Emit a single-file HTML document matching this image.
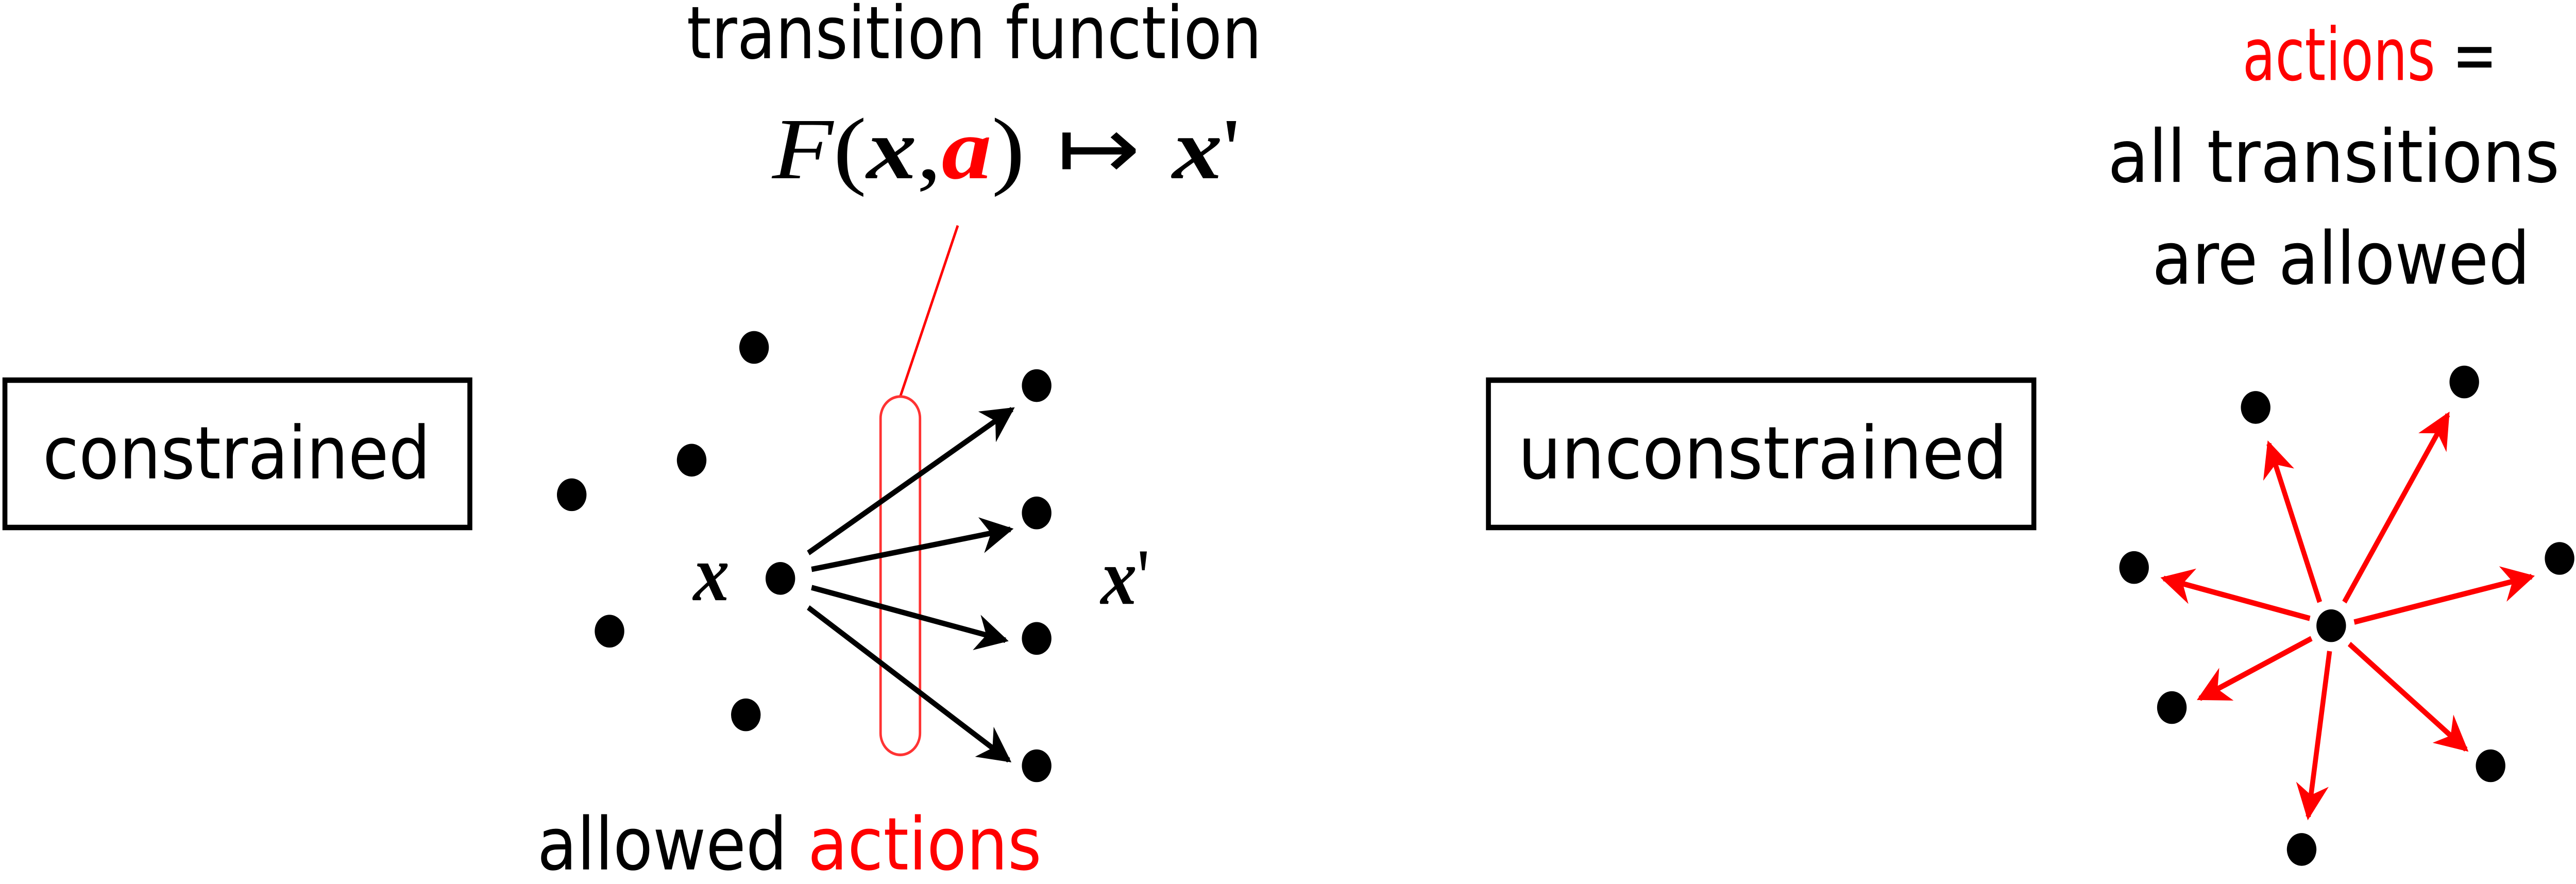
<!DOCTYPE html>
<html><head><meta charset="utf-8"><style>
html,body{margin:0;padding:0;background:#fff;width:100%;height:100%;overflow:hidden;}
svg{display:block;width:100vw;height:100vh;position:fixed;left:0;top:0;}
text{font-family:"DejaVu Sans","Liberation Sans",sans-serif;}
.m{font-family:"Liberation Serif",serif;font-style:italic;font-weight:bold;}
</style></head><body>
<svg viewBox="0 0 1568 486" preserveAspectRatio="none" xmlns="http://www.w3.org/2000/svg">
<defs>
<marker id="abk" viewBox="0 0 10 10" refX="9" refY="5" markerWidth="24" markerHeight="20" orient="auto" markerUnits="userSpaceOnUse"><path d="M0,0 L10,5 L0,10 L3,5 z" fill="#000"/></marker>
<marker id="ark" viewBox="0 0 10 10" refX="9" refY="5" markerWidth="24" markerHeight="20" orient="auto" markerUnits="userSpaceOnUse"><path d="M0,0 L10,5 L0,10 L3,5 z" fill="#f00"/></marker>
</defs>
<g>
<rect x="3" y="209" width="283" height="81" fill="none" stroke="#000" stroke-width="3"/>
<text x="26" y="263" font-size="40" textLength="236" lengthAdjust="spacingAndGlyphs">constrained</text>
</g>
<text x="418" y="32" font-size="40" textLength="350" lengthAdjust="spacingAndGlyphs">transition function</text>
<text x="470" y="98" font-size="48" textLength="285" lengthAdjust="spacingAndGlyphs"><tspan font-family="Liberation Serif,serif" font-style="italic">F</tspan><tspan font-family="Liberation Serif,serif">(</tspan><tspan class="m">x</tspan><tspan font-family="Liberation Serif,serif">,</tspan><tspan class="m" fill="#f00">a</tspan><tspan font-family="Liberation Serif,serif">)</tspan> ↦ <tspan class="m">x</tspan><tspan font-family="Liberation Serif,serif">'</tspan></text>
<line x1="548" y1="218" x2="583" y2="124" stroke="#f00" stroke-width="1.5"/>
<rect x="536" y="218" width="24" height="197" rx="12" fill="none" stroke="#f33" stroke-width="1.5"/>
<g fill="#000">
<circle cx="459" cy="191" r="9"/><circle cx="421" cy="253" r="9"/><circle cx="348" cy="272" r="9"/>
<circle cx="371" cy="347" r="9"/><circle cx="454" cy="393" r="9"/><circle cx="475" cy="318" r="9"/>
<circle cx="631" cy="212" r="9"/><circle cx="631" cy="282" r="9"/><circle cx="631" cy="351" r="9"/><circle cx="631" cy="421" r="9"/>
</g>
<g stroke="#000" stroke-width="3">
<line x1="492" y1="304" x2="616" y2="225" marker-end="url(#abk)"/>
<line x1="494" y1="313" x2="615" y2="291" marker-end="url(#abk)"/>
<line x1="494" y1="323" x2="612" y2="352" marker-end="url(#abk)"/>
<line x1="492" y1="334" x2="614" y2="418" marker-end="url(#abk)"/>
</g>
<text x="422" y="330" font-size="44" class="m">x</text>
<text x="670" y="332" font-size="44" class="m">x<tspan font-weight="normal" font-style="normal">'</tspan></text>
<text x="327" y="478" font-size="40" textLength="307" lengthAdjust="spacingAndGlyphs">allowed <tspan fill="#f00">actions</tspan></text>
<g>
<rect x="906" y="209" width="332" height="81" fill="none" stroke="#000" stroke-width="3"/>
<text x="924" y="263" font-size="40" textLength="298" lengthAdjust="spacingAndGlyphs">unconstrained</text>
</g>
<g font-size="40">
<text x="1365" y="44" textLength="155" lengthAdjust="spacingAndGlyphs"><tspan fill="#f00">actions</tspan> =</text>
<text x="1283" y="100" textLength="275" lengthAdjust="spacingAndGlyphs">all transitions</text>
<text x="1310" y="156" textLength="230" lengthAdjust="spacingAndGlyphs">are allowed</text>
</g>
<g fill="#000">
<circle cx="1419" cy="344" r="9"/>
<circle cx="1373" cy="224" r="9"/><circle cx="1500" cy="210" r="9"/><circle cx="1299" cy="312" r="9"/>
<circle cx="1558" cy="307" r="9"/><circle cx="1322" cy="389" r="9"/><circle cx="1516" cy="421" r="9"/><circle cx="1401" cy="467" r="9"/>
</g>
<g stroke="#f00" stroke-width="3">
<line x1="1412" y1="331" x2="1381" y2="244" marker-end="url(#ark)"/>
<line x1="1427" y1="331" x2="1490" y2="228" marker-end="url(#ark)"/>
<line x1="1406" y1="340" x2="1317" y2="318" marker-end="url(#ark)"/>
<line x1="1433" y1="342" x2="1541" y2="317" marker-end="url(#ark)"/>
<line x1="1407" y1="351" x2="1339" y2="384" marker-end="url(#ark)"/>
<line x1="1430" y1="354" x2="1501" y2="412" marker-end="url(#ark)"/>
<line x1="1418" y1="358" x2="1405" y2="449" marker-end="url(#ark)"/>
</g>
</svg>
</body></html>
